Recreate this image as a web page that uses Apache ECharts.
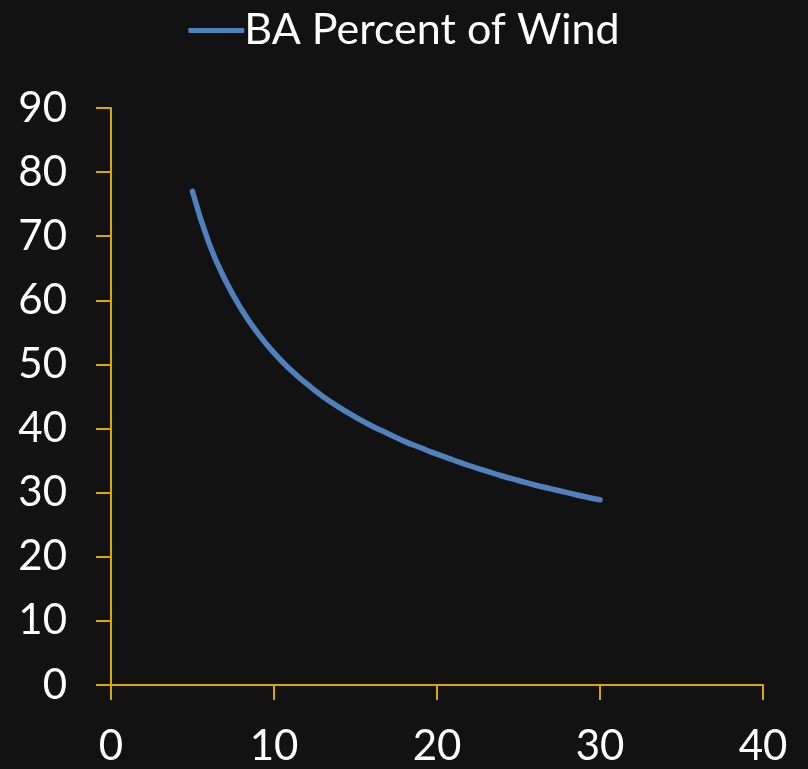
<!DOCTYPE html>
<html>
<head>
<meta charset="utf-8">
<script src="https://cdn.jsdelivr.net/npm/echarts@6/dist/echarts.min.js"></script>
<style>
  html, body { margin: 0; padding: 0; background: #121212; }
  #chart { width: 808px; height: 769px; }
</style>
</head>
<body>
<div id="chart"></div>
<script>
// Wind speed (x) and BA share of wind (%)
const windSpeed = [5, 6, 7, 8, 9, 10, 11, 12, 13, 14, 15, 16, 17, 18, 19, 20, 21, 22, 23, 24, 25, 26, 27, 28, 29, 30];
const baPercent = [77, 69.0, 63.2, 58.6, 54.9, 51.8, 49.2, 47.0, 45.0, 43.3, 41.8, 40.4, 39.2, 38.0, 37.0, 36.0, 35.1, 34.2, 33.4, 32.6, 31.9, 31.2, 30.6, 30.0, 29.4, 28.9];
const seriesName = 'BA Percent of Wind';

const axisColor = '#dba600';
const textColor = '#ffffff';
const fontFamily = 'Lato, "Open Sans", sans-serif';

const chart = echarts.init(document.getElementById('chart'));
chart.setOption({
  backgroundColor: '#121212',
  animation: false,
  legend: {
    top: 4,
    left: 'center',
    itemWidth: 56,
    itemHeight: 5,
    itemGap: 5,
    icon: 'roundRect',
    textStyle: { color: textColor, fontSize: 43, fontFamily: fontFamily, padding: [0, 0, 0, -5] },
    data: [seriesName]
  },
  grid: { left: 111, right: 45, top: 108, bottom: 84, containLabel: false },
  xAxis: {
    type: 'value',
    min: 0, max: 40, interval: 10,
    axisLine: { show: true, onZero: false, lineStyle: { color: axisColor, width: 2 } },
    axisTick: { show: true, length: 15, lineStyle: { color: axisColor, width: 2 } },
    splitLine: { show: false },
    axisLabel: { color: textColor, fontSize: 42, fontFamily: fontFamily, margin: 40 }
  },
  yAxis: {
    type: 'value',
    min: 0, max: 90, interval: 10,
    axisLine: { show: true, lineStyle: { color: axisColor, width: 2 } },
    axisTick: { show: true, length: 15, lineStyle: { color: axisColor, width: 2 } },
    splitLine: { show: false },
    axisLabel: { color: textColor, fontSize: 42, fontFamily: fontFamily, margin: 44 }
  },
  series: [{
    name: seriesName,
    type: 'line',
    smooth: true,
    showSymbol: false,
    data: windSpeed.map((x, i) => [x, baPercent[i]]),
    lineStyle: { color: '#4f81bd', width: 5.5, cap: 'round' },
    itemStyle: { color: '#4f81bd' }
  }]
});
</script>
</body>
</html>
